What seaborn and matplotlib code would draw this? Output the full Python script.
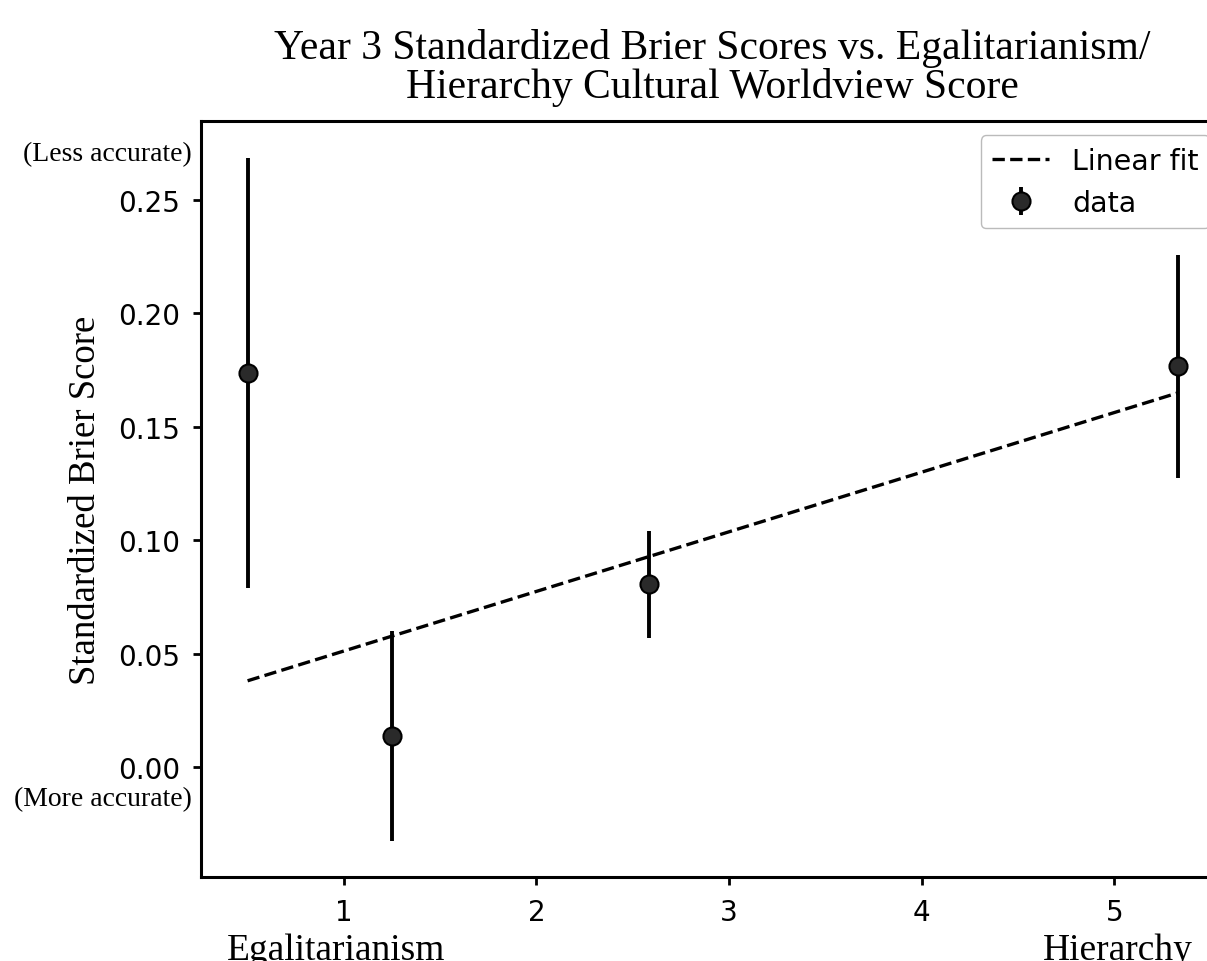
import matplotlib
matplotlib.use("Agg")
import matplotlib.pyplot as plt
import matplotlib.transforms as mtransforms
import seaborn as sns
import pandas as pd
import numpy as np

# ---- data ----
worldview_x = [0.5, 1.25, 2.583, 5.333]
brier_y = [0.1738, 0.0137, 0.0806, 0.1767]
brier_err = [0.0947, 0.0463, 0.0236, 0.0492]
fit_x = [0.5, 5.333]
fit_y = [0.0380, 0.1650]
x_ticks = [1, 2, 3, 4, 5]
y_ticks = [0.00, 0.05, 0.10, 0.15, 0.20, 0.25]

sns.set_style("ticks")
plt.rcParams["font.family"] = ["DejaVu Sans"]
plt.rcParams["text.color"] = "black"
plt.rcParams["axes.labelcolor"] = "black"
plt.rcParams["xtick.color"] = "black"
plt.rcParams["ytick.color"] = "black"

fig = plt.figure(figsize=(12.07, 9.62), dpi=100)
ax = fig.add_axes([201 / 1207, 1 - 878 / 962, 1023 / 1207, 756 / 962])

fit_df = pd.DataFrame({"x": fit_x, "y": fit_y})
sns.lineplot(data=fit_df, x="x", y="y", ax=ax, color="black",
             linestyle="--", linewidth=2.4, label="Linear fit", legend=False)

eb = ax.errorbar(worldview_x, brier_y, yerr=brier_err, fmt="o", color="black",
                 markerfacecolor="#2a2a2a", markeredgecolor="black",
                 markeredgewidth=1.5, markersize=13, elinewidth=2.8,
                 capsize=0, label="data")

ax.set_xlim(0.258, 5.57)
ax.set_ylim(-0.0485, 0.2848)
ax.set_xticks(x_ticks)
ax.set_xticklabels([str(t) for t in x_ticks])
ax.set_yticks(y_ticks)
ax.set_yticklabels([f"{t:.2f}" for t in y_ticks])
ax.tick_params(axis="both", labelsize=20, length=6, width=2, color="black",
               labelcolor="black", direction="out", pad=9)
for s in ax.spines.values():
    s.set_linewidth(2.2)
    s.set_color("black")

ax.set_xlabel("")
ax.set_ylabel("Standardized Brier Score", family="Liberation Serif",
              fontsize=26.5, labelpad=11, color="black")

ax.set_title("Year 3 Standardized Brier Scores vs. Egalitarianism/\n"
             "Hierarchy Cultural Worldview Score",
             family="Liberation Serif", fontsize=30, pad=17, linespacing=1.0,
             color="black")

trans = mtransforms.blended_transform_factory(ax.transAxes, ax.transData)
ax.text(-0.009, 0.2705, "(Less accurate)", transform=trans, ha="right",
        va="center", family="Liberation Serif", fontsize=20, clip_on=False)
ax.text(-0.009, -0.0141, "(More accurate)", transform=trans, ha="right",
        va="center", family="Liberation Serif", fontsize=20, clip_on=False)

trans2 = mtransforms.blended_transform_factory(ax.transData, ax.transAxes)
ax.text(0.96, -0.073, "Egalitarianism", transform=trans2, ha="center",
        va="top", family="Liberation Serif", fontsize=27, clip_on=False)
ax.text(5.02, -0.073, "Hierarchy", transform=trans2, ha="center",
        va="top", family="Liberation Serif", fontsize=27, clip_on=False)

line_handle = ax.get_lines()[0]
ax.legend([line_handle, eb], ["Linear fit", "data"], loc="upper right",
          fontsize=20.5, frameon=True, edgecolor="#bbbbbb", framealpha=1,
          handlelength=2.0)

fig.savefig("out.png", dpi=100)
